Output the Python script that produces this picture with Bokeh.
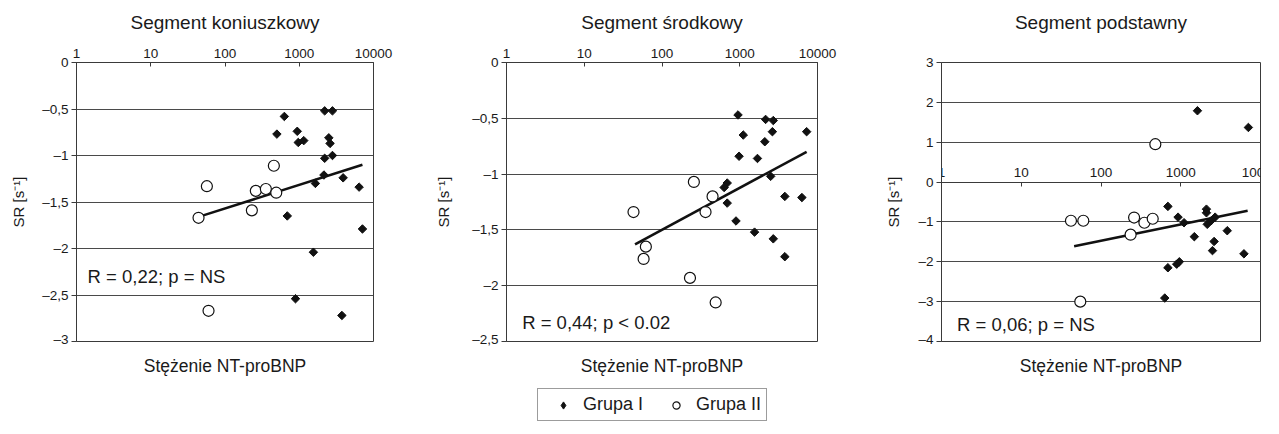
import math
from bokeh.plotting import figure
from bokeh.models import (FixedTicker, CustomJSTickFormatter, Label,
                          Legend, LegendItem)
from bokeh.layouts import column, row
from bokeh.embed import file_html
from bokeh.resources import INLINE

FONT = "Liberation Sans"
AXIS_COLOR = "#3a3a3a"
GRID_COLOR = "#4a4a4a"
TEXT_COLOR = "#1a1a1a"

# ---------------- data ----------------
x_ticks = [1, 10, 100, 1000, 10000]
x_label = "Stężenie NT-proBNP"
y_label = "SR [s\u207b\u00b9]"

# Segment koniuszkowy
p1_title = "Segment koniuszkowy"
p1_g1_x = [630, 500, 940, 970, 1150, 2200, 2800, 2500, 2600, 2800, 2200, 2150, 1650, 3900, 6400, 690, 7100, 1550, 890, 3750]
p1_g1_y = [-0.58, -0.77, -0.74, -0.86, -0.84, -0.52, -0.52, -0.81, -0.87, -1.00, -1.03, -1.21, -1.30, -1.24, -1.34, -1.65, -1.79, -2.04, -2.54, -2.72]
p1_g2_x = [57, 455, 260, 355, 490, 44, 230, 60]
p1_g2_y = [-1.33, -1.11, -1.38, -1.36, -1.40, -1.67, -1.59, -2.67]
p1_trend_x = [44, 7100]
p1_trend_y = [-1.66, -1.10]
p1_yticks = [0, -0.5, -1, -1.5, -2, -2.5, -3]
p1_note = "R = 0,22; p = NS"

# Segment środkowy
p2_title = "Segment środkowy"
p2_g1_x = [950, 1110, 980, 2150, 2700, 2630, 2100, 1690, 7250, 2500, 690, 630, 3800, 6300, 690, 895, 1550, 2700, 3800]
p2_g1_y = [-0.47, -0.65, -0.84, -0.51, -0.52, -0.62, -0.71, -0.86, -0.62, -1.02, -1.08, -1.12, -1.20, -1.21, -1.26, -1.42, -1.52, -1.58, -1.74]
p2_g2_x = [257, 447, 43, 363, 62, 58, 229, 490]
p2_g2_y = [-1.07, -1.20, -1.34, -1.34, -1.65, -1.76, -1.93, -2.15]
p2_trend_x = [45, 7250]
p2_trend_y = [-1.63, -0.80]
p2_yticks = [0, -0.5, -1, -1.5, -2, -2.5]
p2_note = "R = 0,44; p < 0.02"

# Segment podstawny
p3_title = "Segment podstawny"
p3_g1_x = [1620, 7050, 690, 925, 1100, 2100, 2100, 2150, 2400, 2700, 1480, 2620, 3830, 2500, 6200, 690, 890, 960, 630]
p3_g1_y = [1.79, 1.37, -0.61, -0.88, -1.02, -0.68, -0.77, -1.06, -0.97, -0.88, -1.37, -1.49, -1.22, -1.72, -1.80, -2.15, -2.06, -2.00, -2.91]
p3_g2_x = [480, 42, 60, 260, 350, 445, 235, 55]
p3_g2_y = [0.95, -0.97, -0.97, -0.89, -1.02, -0.92, -1.32, -3.00]
p3_trend_x = [46, 6900]
p3_trend_y = [-1.61, -0.72]
p3_yticks = [3, 2, 1, 0, -1, -2, -3, -4]
p3_note = "R = 0,06; p = NS"

legend_labels = ["Grupa I", "Grupa II"]

Y_FMT = CustomJSTickFormatter(code="""
var s = Math.abs(tick).toString().replace('.', ',');
return (tick < 0 ? '\\u2013' : '') + s;
""")
X_FMT = CustomJSTickFormatter(code="return tick.toFixed(0);")

PAGE_W = 1279
HEAD_H = 40          # row with the panel titles
TOP = 22             # room for the top axis inside each panel
FRAME_H = 279
BOTTOM = 5
FOOT_H = 88          # row with the axis captions and the legend
H = TOP + FRAME_H + BOTTOM

# (figure width, left border, right border) of each panel
geom = [(430, 76, 57), (432, 76, 45), (417, 79, 19)]


def style_axis(ax):
    ax.axis_line_color = AXIS_COLOR
    ax.major_tick_line_color = AXIS_COLOR
    ax.minor_tick_line_color = None
    ax.major_label_text_font = FONT
    ax.major_label_text_font_size = "13.5px"
    ax.major_label_text_color = TEXT_COLOR


def make_panel(ylo, yhi, yticks, g1x, g1y, g2x, g2y, tx, ty, note, note_x, note_y,
               g, ylab_standoff, cross=False):
    width, left, right = g
    p = figure(width=width, height=H, x_axis_type="log", x_range=(1, 10000),
               y_range=(ylo, yhi), x_axis_location="above",
               output_backend="svg", toolbar_location=None,
               min_border_left=left, min_border_right=right,
               min_border_top=TOP, min_border_bottom=BOTTOM)
    p.background_fill_color = "white"
    p.border_fill_color = "white"
    p.outline_line_color = AXIS_COLOR
    p.outline_line_width = 1

    xa = p.xaxis[0]
    style_axis(xa)
    xa.ticker = FixedTicker(ticks=x_ticks)
    xa.formatter = X_FMT
    xa.major_tick_in = 4
    xa.major_tick_out = 0
    xa.major_label_standoff = 5
    if cross:
        xa.fixed_location = 0

    ya = p.yaxis[0]
    style_axis(ya)
    ya.ticker = FixedTicker(ticks=yticks)
    ya.formatter = Y_FMT
    ya.major_tick_in = 0
    ya.major_tick_out = 5
    ya.major_label_standoff = 3
    ya.axis_label = y_label
    ya.axis_label_text_font = FONT
    ya.axis_label_text_font_size = "15px"
    ya.axis_label_text_font_style = "normal"
    ya.axis_label_text_color = TEXT_COLOR
    ya.axis_label_standoff = ylab_standoff

    p.xgrid.visible = False
    p.ygrid.ticker = FixedTicker(ticks=yticks)
    p.ygrid.grid_line_color = GRID_COLOR
    p.ygrid.grid_line_width = 1

    p.line(tx, ty, line_color="#111111", line_width=2.6)
    p.scatter(g1x, g1y, marker="square", angle=math.pi / 4, size=6,
              fill_color="#111111", line_color="#111111")
    p.scatter(g2x, g2y, marker="circle", size=11, fill_color="white",
              line_color="#111111", line_width=1.2)

    p.add_layout(Label(x=note_x, y=note_y, text=note, text_baseline="middle",
                       text_font=FONT, text_font_size="18.5px",
                       text_color=TEXT_COLOR))
    return p


p1 = make_panel(-3, 0, p1_yticks, p1_g1_x, p1_g1_y, p1_g2_x, p1_g2_y,
                p1_trend_x, p1_trend_y, p1_note, 1.41, -2.30, geom[0], ylab_standoff=12)
p2 = make_panel(-2.5, 0, p2_yticks, p2_g1_x, p2_g1_y, p2_g2_x, p2_g2_y,
                p2_trend_x, p2_trend_y, p2_note, 1.59, -2.33, geom[1], ylab_standoff=17)
p3 = make_panel(-4, 3, p3_yticks, p3_g1_x, p3_g1_y, p3_g2_x, p3_g2_y,
                p3_trend_x, p3_trend_y, p3_note, 1.57, -3.58, geom[2], ylab_standoff=13,
                cross=True)

# horizontal centre of each panel's frame, in page pixels
centres = []
x0 = 0
for width, left, right in geom:
    centres.append(x0 + left + (width - left - right) / 2)
    x0 += width


def strip(height):
    f = figure(width=PAGE_W, height=height, output_backend="svg", toolbar_location=None,
               min_border=0, x_range=(0, 1), y_range=(0, 1))
    f.axis.visible = False
    f.grid.visible = False
    f.outline_line_color = None
    f.background_fill_color = "white"
    return f


# header with the three panel titles
head = strip(HEAD_H)
for c, t in zip(centres, [p1_title, p2_title, p3_title]):
    head.add_layout(Label(x=c, y=HEAD_H - 22, x_units="screen", y_units="screen",
                          text=t, text_align="center", text_baseline="middle",
                          text_font=FONT, text_font_size="19px", text_color=TEXT_COLOR))

# footer with the x-axis captions and the legend
foot = strip(FOOT_H)
for c in centres:
    foot.add_layout(Label(x=c, y=FOOT_H - 19, x_units="screen", y_units="screen",
                          text=x_label, text_align="center", text_baseline="middle",
                          text_font=FONT, text_font_size="17.5px", text_color=TEXT_COLOR))

# the legend's renderers hold group data outside the strip's visible range
r1 = foot.scatter(p1_g1_x, p1_g1_y, marker="diamond", size=9,
                  fill_color="#111111", line_color="#111111")
r2 = foot.scatter(p1_g2_x, p1_g2_y, marker="circle", size=9, fill_color="white",
                  line_color="#111111", line_width=1.2)
leg = Legend(items=[LegendItem(label=legend_labels[0], renderers=[r1]),
                    LegendItem(label=legend_labels[1], renderers=[r2])],
             orientation="horizontal", location=(537, FOOT_H - 47 - 28),
             padding=5, spacing=13, glyph_width=40, glyph_height=18,
             label_height=18, label_standoff=-2,
             label_text_font=FONT, label_text_font_size="18px",
             label_text_color=TEXT_COLOR,
             border_line_color=AXIS_COLOR, border_line_width=1,
             background_fill_alpha=0)
foot.add_layout(leg)

layout = column(head, row(p1, p2, p3), foot, spacing=0)
open("out.html", "w").write(file_html(layout, INLINE))
